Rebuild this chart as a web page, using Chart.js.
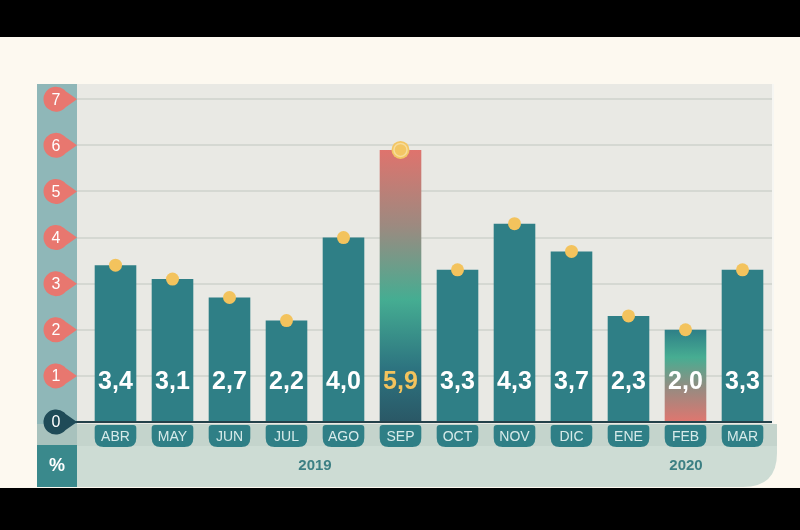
<!DOCTYPE html>
<html>
<head>
<meta charset="utf-8">
<script src="https://cdn.jsdelivr.net/npm/chart.js@4"></script>
<style>
  html, body { margin: 0; padding: 0; background: #fdf9f0; }
  #wrap { width: 800px; height: 530px; position: relative; }
</style>
</head>
<body>
<div id="wrap"><canvas id="chart" width="800" height="530"></canvas></div>
<script>
// datos: inflación mensual (%)
const meses = ['ABR', 'MAY', 'JUN', 'JUL', 'AGO', 'SEP', 'OCT', 'NOV', 'DIC', 'ENE', 'FEB', 'MAR'];
const valores = [3.4, 3.1, 2.7, 2.2, 4.0, 5.9, 3.3, 4.3, 3.7, 2.3, 2.0, 3.3];
const ticksY = [0, 1, 2, 3, 4, 5, 6, 7];
const anios = [{ texto: '2019', x: 315 }, { texto: '2020', x: 686 }];
const maximo = 6; // SEP
const minimo = 10; // FEB

const FONT = '"Liberation Sans", Arial, sans-serif';
const TEAL = '#2f7f86';

function roundRect(ctx, x, y, w, h, r) {
    ctx.beginPath();
    ctx.moveTo(x + r[0], y);
    ctx.lineTo(x + w - r[1], y);
    ctx.quadraticCurveTo(x + w, y, x + w, y + r[1]);
    ctx.lineTo(x + w, y + h - r[2]);
    ctx.quadraticCurveTo(x + w, y + h, x + w - r[2], y + h);
    ctx.lineTo(x + r[3], y + h);
    ctx.quadraticCurveTo(x, y + h, x, y + h - r[3]);
    ctx.lineTo(x, y + r[0]);
    ctx.quadraticCurveTo(x, y, x + r[0], y);
    ctx.closePath();
}

function colorBarra(context) {
    const chart = context.chart;
    const i = context.dataIndex;
    if (!chart.chartArea) return TEAL;
    const y = chart.scales.y;
    const top = y.getPixelForValue(valores[i]);
    const bottom = y.getPixelForValue(0);
    if (i === maximo - 1) {
        const g = chart.ctx.createLinearGradient(0, top, 0, bottom);
        g.addColorStop(0, '#df736d');
        g.addColorStop(0.28, '#9c8a80');
        g.addColorStop(0.55, '#45ad92');
        g.addColorStop(0.8, '#2d7480');
        g.addColorStop(1, '#2a5866');
        return g;
    }
    if (i === minimo) {
        const g = chart.ctx.createLinearGradient(0, top, 0, bottom);
        g.addColorStop(0, '#2e7f87');
        g.addColorStop(0.3, '#47ad92');
        g.addColorStop(0.65, '#9a8a80');
        g.addColorStop(1, '#e0766f');
        return g;
    }
    return TEAL;
}

const fondo = {
    id: 'fondo',
    beforeDraw(chart) {
        const ctx = chart.ctx;
        const y = chart.scales.y;
        ctx.save();
        ctx.fillStyle = '#fdf9f0';
        ctx.fillRect(0, 0, 800, 530);
        // panel gris
        ctx.fillStyle = '#e9e9e4';
        ctx.fillRect(77, 84, 695, 342);
        ctx.strokeStyle = '#f6f6f2';
        ctx.lineWidth = 2;
        ctx.beginPath(); ctx.moveTo(773, 84); ctx.lineTo(773, 424); ctx.stroke();
        // zona inferior
        ctx.fillStyle = '#cddcd4';
        roundRect(ctx, 77, 424, 700, 63, [0, 0, 34, 0]);
        ctx.fill();
        ctx.fillStyle = '#c4d4cc';
        ctx.fillRect(77, 424, 700, 22);
        // franja izquierda
        ctx.fillStyle = '#8fb7b8';
        ctx.fillRect(37, 84, 40, 340);
        ctx.fillStyle = '#a8c2bd';
        ctx.fillRect(37, 424, 40, 21);
        ctx.fillStyle = '#3a898c';
        ctx.fillRect(37, 445, 40, 42);
        ctx.fillStyle = '#ffffff';
        ctx.font = 'bold 18px ' + FONT;
        ctx.textAlign = 'center';
        ctx.textBaseline = 'middle';
        ctx.fillText('%', 57, 466);
        // rejilla
        ctx.strokeStyle = '#d5d8d2';
        ctx.lineWidth = 2;
        ticksY.forEach(v => {
            if (v === 0) return;
            const py = Math.round(y.getPixelForValue(v));
            ctx.beginPath(); ctx.moveTo(77, py); ctx.lineTo(772, py); ctx.stroke();
        });
        // bandas negras
        ctx.fillStyle = '#000000';
        ctx.fillRect(0, 0, 800, 37);
        ctx.fillRect(0, 488, 800, 42);
        ctx.restore();
    },
    afterDatasetsDraw(chart) {
        const ctx = chart.ctx;
        const y = chart.scales.y;
        const meta = chart.getDatasetMeta(0);
        const y0 = y.getPixelForValue(0);
        ctx.save();
        // linea de cero
        ctx.strokeStyle = '#24414a';
        ctx.lineWidth = 2;
        ctx.beginPath(); ctx.moveTo(60, y0); ctx.lineTo(772, y0); ctx.stroke();
        // marcadores del eje (gota con punta a la derecha)
        ticksY.forEach(v => {
            const py = y.getPixelForValue(v);
            ctx.fillStyle = v === 0 ? '#1f4b58' : '#e8776f';
            ctx.beginPath();
            ctx.arc(56, py, 12.5, Math.PI * 0.22, Math.PI * 1.78);
            ctx.quadraticCurveTo(70, py - 5, 77, py);
            ctx.quadraticCurveTo(70, py + 5, 56 + 12.5 * Math.cos(Math.PI * 0.22), py + 12.5 * Math.sin(Math.PI * 0.22));
            ctx.closePath();
            ctx.fill();
            ctx.fillStyle = '#ffffff';
            ctx.font = '16px ' + FONT;
            ctx.textAlign = 'center';
            ctx.textBaseline = 'middle';
            ctx.fillText(String(v), 56, py + 1);
        });
        // etiquetas de meses
        meta.data.forEach((bar, i) => {
            const w = bar.width;
            ctx.fillStyle = TEAL;
            roundRect(ctx, bar.x - w / 2, y0 + 3, w, 22, [3, 3, 9, 9]);
            ctx.fill();
            ctx.fillStyle = '#d7ebea';
            ctx.font = '14px ' + FONT;
            ctx.textAlign = 'center';
            ctx.textBaseline = 'middle';
            ctx.fillText(meses[i], bar.x, y0 + 15);
        });
        // años
        ctx.fillStyle = '#3c7f83';
        ctx.font = 'bold 15px ' + FONT;
        ctx.textAlign = 'center';
        ctx.textBaseline = 'middle';
        anios.forEach(a => ctx.fillText(a.texto, a.x, 466));
        // puntos y valores
        meta.data.forEach((bar, i) => {
            const esMax = i === maximo - 1;
            if (esMax) {
                ctx.fillStyle = '#f3c664';
                ctx.beginPath(); ctx.arc(bar.x, bar.y, 9, 0, Math.PI * 2); ctx.fill();
                ctx.strokeStyle = '#f7dc9a';
                ctx.lineWidth = 1.5;
                ctx.beginPath(); ctx.arc(bar.x, bar.y, 6.5, 0, Math.PI * 2); ctx.stroke();
            } else {
                ctx.fillStyle = '#f3c35d';
                ctx.beginPath(); ctx.arc(bar.x, bar.y, 6.5, 0, Math.PI * 2); ctx.fill();
            }
            ctx.fillStyle = esMax ? '#f3c35d' : '#ffffff';
            ctx.font = 'bold 25px ' + FONT;
            ctx.textAlign = 'center';
            ctx.textBaseline = 'middle';
            ctx.fillText(valores[i].toFixed(1).replace('.', ','), bar.x, 382);
        });
        ctx.restore();
    }
};

new Chart(document.getElementById('chart'), {
    type: 'bar',
    data: {
        labels: meses,
        datasets: [{
            data: valores,
            backgroundColor: colorBarra,
            borderWidth: 0,
            barPercentage: 0.73,
            categoryPercentage: 1
        }]
    },
    options: {
        responsive: false,
        animation: false,
        layout: { padding: { left: 87, right: 29, top: 84, bottom: 108 } },
        plugins: { legend: { display: false }, tooltip: { enabled: false } },
        scales: {
            x: { display: false },
            y: { display: false, min: 0, max: 7.33 }
        }
    },
    plugins: [fondo]
});
</script>
</body>
</html>
